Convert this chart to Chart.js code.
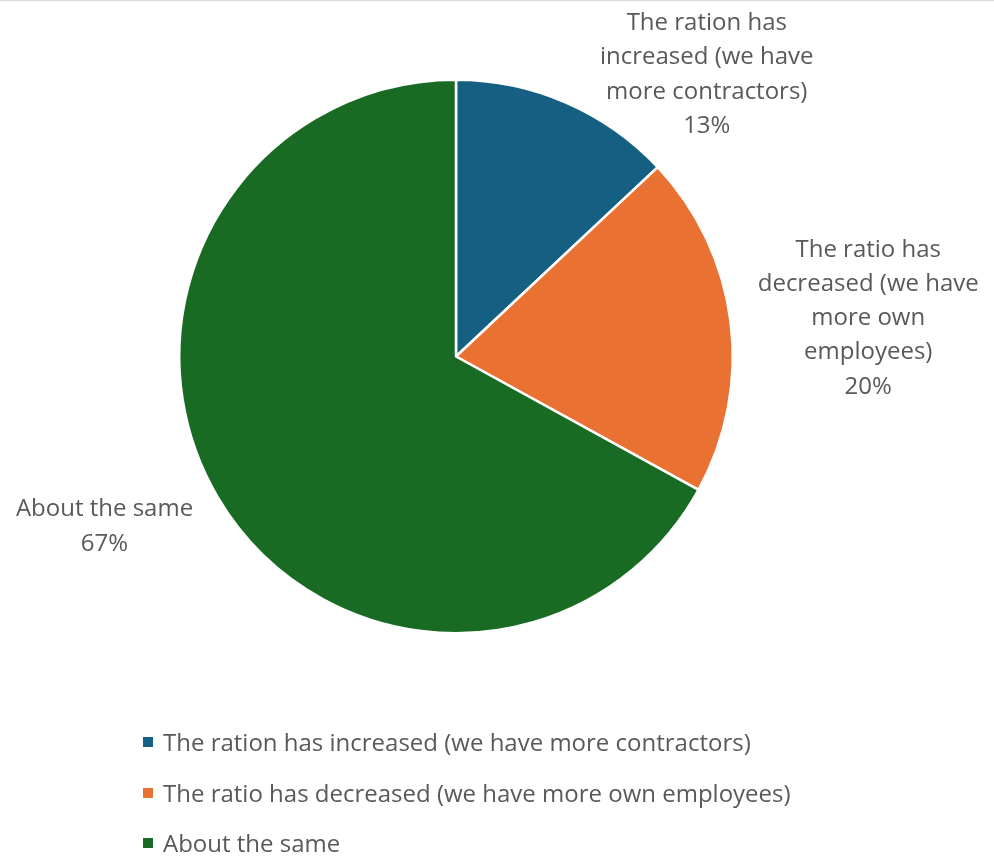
<!DOCTYPE html>
<html>
<head>
<meta charset="utf-8">
<script src="https://cdn.jsdelivr.net/npm/chart.js@4.4.1/dist/chart.umd.min.js"></script>
<style>
  html, body { margin: 0; padding: 0; background: #ffffff; }
  #wrap { position: relative; width: 994px; height: 856px; border-top: 1px solid #d9d9d9; box-sizing: border-box; overflow: hidden; }
  #chart { position: absolute; left: 0; top: 0; }
  #legend { position: absolute; left: 143px; top: 716px; font-family: "Open Sans", sans-serif; font-size: 24px; color: #595959; }
  .item { height: 50.5px; display: flex; align-items: center; white-space: nowrap; line-height: 32px; }
  .item > span:last-child { height: 32px; }
  .box { width: 10px; height: 10px; margin-right: 10px; flex: none; }
</style>
</head>
<body>
<div id="wrap">
  <canvas id="chart" width="994" height="855"></canvas>
  <div id="legend"></div>
</div>
<script>
const categories = [
  "The ration has increased (we have more contractors)",
  "The ratio has decreased (we have more own employees)",
  "About the same"
];
const values = [13, 20, 67];
const colors = ["#156082", "#E97132", "#196B24"];
// Wrapped category text used for the labels beside the slices
const labelLines = [
  ["The ration has", "increased (we have", "more contractors)"],
  ["The ratio has", "decreased (we have", "more own", "employees)"],
  ["About the same"]
];

// Label placement: distance from the centre along the slice's mid angle
// (in radii), plus a small nudge in pixels.
const labelPlacement = [
  { dist: 1.117, dx: 128, dy: 2 },
  { dist: 1.505, dx: -1, dy: 14 },
  { dist: 1.40, dx: -18, dy: -27 }
];

const FONT_FAMILY = '"Open Sans", sans-serif';

const sliceLabels = {
  id: 'sliceLabels',
  afterDatasetsDraw(chart) {
    const ctx = chart.ctx;
    const meta = chart.getDatasetMeta(0);
    ctx.save();
    ctx.font = '24px ' + FONT_FAMILY;
    ctx.fillStyle = '#595959';
    ctx.textAlign = 'center';
    ctx.textBaseline = 'middle';
    const lh = 34.3;
    meta.data.forEach((arc, i) => {
      const p = arc.getProps(['x', 'y', 'startAngle', 'endAngle', 'outerRadius'], true);
      const mid = (p.startAngle + p.endAngle) / 2;
      const pl = labelPlacement[i];
      const cx = p.x + Math.cos(mid) * p.outerRadius * pl.dist + pl.dx;
      const cy = p.y + Math.sin(mid) * p.outerRadius * pl.dist + pl.dy;
      const lines = labelLines[i].concat([values[i] + '%']);
      const top = cy - (lines.length - 1) * lh / 2;
      lines.forEach((t, k) => ctx.fillText(t, cx, top + k * lh));
    });
    ctx.restore();
  }
};

new Chart(document.getElementById('chart'), {
  type: 'pie',
  data: {
    labels: categories,
    datasets: [{
      data: values,
      backgroundColor: colors,
      borderColor: '#ffffff',
      borderWidth: 2.5
    }]
  },
  options: {
    responsive: false,
    animation: false,
    layout: { padding: { left: 178, right: 260, top: 77, bottom: 221 } },
    plugins: {
      legend: { display: false },
      tooltip: { enabled: false }
    }
  },
  plugins: [sliceLabels]
});

const legend = document.getElementById('legend');
categories.forEach((c, i) => {
  const row = document.createElement('div');
  row.className = 'item';
  const b = document.createElement('span');
  b.className = 'box';
  b.style.background = colors[i];
  const t = document.createElement('span');
  t.textContent = c;
  row.appendChild(b);
  row.appendChild(t);
  legend.appendChild(row);
});
</script>
</body>
</html>
